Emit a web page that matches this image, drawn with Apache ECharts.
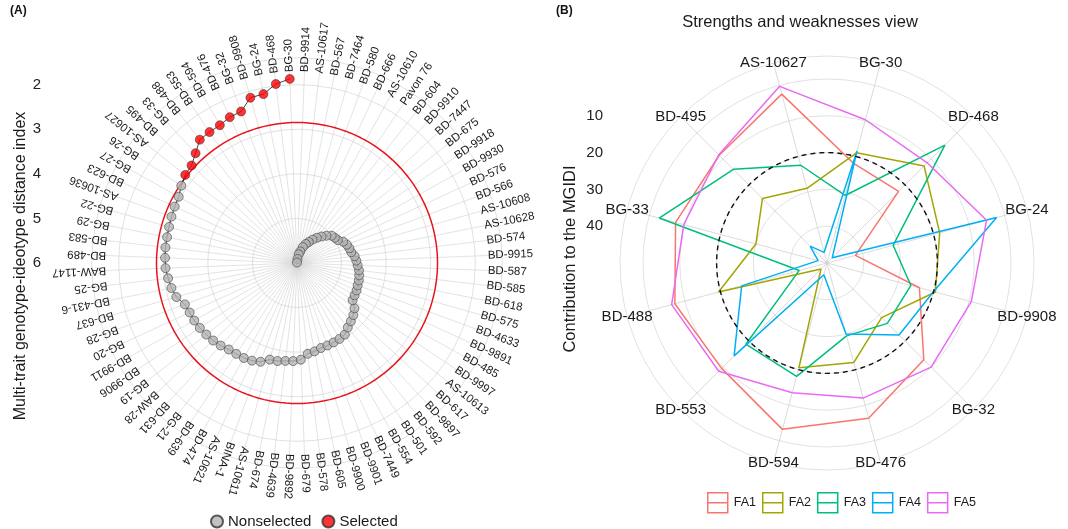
<!DOCTYPE html>
<html>
<head>
<meta charset="utf-8">
<script src="https://cdn.jsdelivr.net/npm/echarts@6/dist/echarts.min.js"></script>
<style>
html, body { margin: 0; padding: 0; background: #fff; }
#plot { width: 1068px; height: 529px; }
</style>
</head>
<body>
<div id="plot"></div>
<script>
// (A) genotypes ranked by MGIDI
var genotypes = ['BG-30', 'BD-468', 'BG-24', 'BD-9908', 'BG-32', 'BD-476', 'BD-594', 'BD-553', 'BD-488', 'BG-33',
  'BD-495', 'AS-10627', 'BG-26', 'BG-27', 'BD-623', 'AS-10636', 'BG-22', 'BG-29', 'BD-583', 'BD-489',
  'BAW-1147', 'BG-25', 'BD-431-6', 'BD-637', 'BG-28', 'BG-20', 'BD-9911', 'BD-9906', 'BG-19', 'BAW-28',
  'BD-631', 'BG-21', 'BD-639', 'BD-474', 'AS-10621', 'BINA-1', 'AS-10611', 'BD-674', 'BD-4639', 'BD-9892',
  'BD-679', 'BD-578', 'BD-605', 'BD-9900', 'BD-9901', 'BD-7449', 'BD-554', 'BD-501', 'BD-592', 'BD-9897',
  'BD-617', 'AS-10613', 'BD-9997', 'BD-485', 'BD-9891', 'BD-4633', 'BD-575', 'BD-618', 'BD-585', 'BD-587',
  'BD-9915', 'BD-574', 'AS-10628', 'AS-10608', 'BD-566', 'BD-576', 'BD-9930', 'BD-9918', 'BD-675', 'BD-7447',
  'BD-9910', 'BD-604', 'Pavon 76', 'AS-10610', 'BD-666', 'BD-580', 'BD-7464', 'BD-567', 'AS-10617', 'BD-9914'];
var mgidi = [1.87, 1.96, 2.14, 2.15, 2.38, 2.40, 2.46, 2.47, 2.48, 2.65,
  2.78, 2.81, 2.88, 2.96, 2.98, 3.00, 3.02, 3.03, 3.03, 3.04,
  3.05, 3.09, 3.13, 3.19, 3.32, 3.35, 3.36, 3.38, 3.41, 3.44,
  3.48, 3.53, 3.55, 3.56, 3.59, 3.64, 3.75, 3.76, 3.79, 3.80,
  3.83, 3.95, 3.98, 4.02, 4.03, 4.04, 4.05, 4.07, 4.16, 4.22,
  4.28, 4.36, 4.50, 4.52, 4.53, 4.55, 4.56, 4.58, 4.60, 4.64,
  4.67, 4.70, 4.76, 4.78, 4.81, 4.86, 4.95, 4.98, 5.01, 5.10,
  5.19, 5.28, 5.37, 5.46, 5.53, 5.62, 5.73, 5.80, 5.91, 5.99];
var nSelected = 12;
var cutoff = 2.85;
var mgidiTicks = [2, 3, 4, 5, 6];

// (B) strengths and weaknesses of the selected genotypes
var radarGenotypes = ['BG-30', 'BD-468', 'BG-24', 'BD-9908', 'BG-32', 'BD-476', 'BD-594', 'BD-553', 'BD-488', 'BG-33', 'BD-495', 'AS-10627'];
var factors = ['FA1', 'FA2', 'FA3', 'FA4', 'FA5'];
var fa1 = [22, 22.5, 42, 24, 12.8, 6.3, 3.2, 9.5, 7.2, 7.4, 8.6, 2.5];
var fa2 = [19, 12.7, 18.3, 19.5, 29, 22, 20.5, 47.7, 19.5, 30, 25.2, 29];
var fa3 = [31, 4.7, 31.4, 26.4, 26.8, 29.5, 18.1, 18.8, 42.2, 2.8, 14, 22.5];
var fa4 = [18.5, 48, 2.3, 20, 22.3, 30, 46.7, 14.3, 26, 47.5, 43.5, 47];
var fa5 = [9.7, 11.5, 5.1, 9.4, 10, 12, 13.5, 8.4, 6.3, 9.7, 8.4, 0.3];
var ideal = 20;
var faColors = ['#F8766D', '#A3A500', '#00BF7D', '#00B0F6', '#E76BF3'];

var FONT = 'Liberation Sans, Arial, sans-serif';
var myChart = echarts.init(document.getElementById('plot'));

// 标签：custom series 画在极坐标上
function polarText(names, rotate, size) {
  return function (params, api) {
    var p = api.coord([api.value(0), api.value(1)]);
    var cs = params.coordSys;
    var ang = Math.atan2(cs.cy - p[1], p[0] - cs.cx);
    return {
      type: 'text', x: p[0], y: p[1], rotation: rotate ? ang : 0,
      style: {
        text: names[params.dataIndex], fill: '#1a1a1a', fontSize: size, fontFamily: FONT,
        align: rotate ? 'left' : 'center', verticalAlign: 'middle'
      }
    };
  };
}

var ring = [];
for (var a = 0; a <= 80; a += 0.5) ring.push([cutoff, a]);
var dash = [];
for (var k = 0; k <= 120; k++) dash.push([ideal, k / 10]);

var gridLine = { lineStyle: { color: '#d9d9d9', width: 0.8 } };
var hidden = { show: false };

var faSeries = [fa1, fa2, fa3, fa4, fa5].map(function (vals, j) {
  return {
    name: factors[j], type: 'line', coordinateSystem: 'polar', polarIndex: 2,
    data: vals.map(function (v, i) { return [v, i]; }).concat([[vals[0], 12]]),
    symbol: 'none', lineStyle: { color: faColors[j], width: 1.5 }, itemStyle: { color: faColors[j] }, z: 3
  };
});

var option = {
  animation: false,
  textStyle: { fontFamily: FONT },
  polar: [
    { center: [297, 263], radius: 178.3 },
    { center: [297, 263], radius: 205.2 },
    { center: [827, 263], radius: 184 },
    { center: [827, 263], radius: 207 }
  ],
  angleAxis: [
    { polarIndex: 0, type: 'value', min: 0, max: 80, show: false },
    { polarIndex: 1, type: 'value', min: 0, max: 80, interval: 1, startAngle: 92.25, clockwise: false,
      axisLine: { lineStyle: { color: '#d9d9d9', width: 0.8 } }, axisTick: hidden, axisLabel: hidden,
      splitLine: { lineStyle: { color: '#d0d0d0', width: 0.6 } } },
    { polarIndex: 2, type: 'value', min: 0, max: 12, interval: 1, startAngle: 75, clockwise: true, show: false },
    { polarIndex: 3, type: 'value', min: 0, max: 12, interval: 1, startAngle: 75, clockwise: true,
      axisLine: { lineStyle: { color: '#d9d9d9', width: 0.8 } }, axisTick: hidden, axisLabel: hidden,
      splitLine: { lineStyle: { color: '#d0d0d0', width: 0.8 } } }
  ],
  radiusAxis: [
    { polarIndex: 0, type: 'value', min: 2, max: 6, interval: 1, inverse: true,
      axisLine: hidden, axisTick: hidden, axisLabel: hidden, splitLine: gridLine },
    { polarIndex: 1, type: 'value', min: 1.4, max: 6, inverse: true,
      axisLine: hidden, axisTick: hidden, axisLabel: hidden, splitLine: hidden },
    { polarIndex: 2, type: 'value', min: 0, max: 50, interval: 10, inverse: true,
      axisLine: hidden, axisTick: hidden, axisLabel: hidden,
      splitLine: { showMinLine: false, showMaxLine: false, lineStyle: { color: '#d9d9d9', width: 0.8 } } },
    { polarIndex: 3, type: 'value', min: 0, max: 1,
      axisLine: hidden, axisTick: hidden, axisLabel: hidden, splitLine: hidden }
  ],
  grid: [
    { left: 47, top: 84.7, width: 1, height: 178.3 },
    { left: 611, top: 79, width: 1, height: 184 }
  ],
  xAxis: [
    { gridIndex: 0, type: 'value', show: false },
    { gridIndex: 1, type: 'value', show: false }
  ],
  yAxis: [
    { gridIndex: 0, type: 'value', min: mgidiTicks[0], max: mgidiTicks[mgidiTicks.length - 1], interval: 1, inverse: true,
      axisLine: hidden, axisTick: hidden, splitLine: hidden,
      axisLabel: { fontSize: 15, color: '#222', margin: 6 } },
    { gridIndex: 1, type: 'value', min: 0, max: 50, interval: 10, inverse: true,
      axisLine: hidden, axisTick: hidden, splitLine: hidden,
      axisLabel: { fontSize: 15, color: '#222', margin: 8, showMinLabel: false, showMaxLabel: false } }
  ],
  legend: [
    { data: ['Nonselected', 'Selected'], left: 205, top: 509, icon: 'circle', itemWidth: 12, itemHeight: 12,
      itemGap: 10, textStyle: { fontSize: 15, color: '#1a1a1a', fontFamily: FONT } },
    { data: factors.map(function (f, j) {
        return { name: f, icon: 'path://M0,0H20V20H0ZM0,10H20',
          itemStyle: { color: '#fff', borderColor: faColors[j], borderWidth: 1.5 } };
      }),
      left: 702, top: 487, itemWidth: 22, itemHeight: 20, itemGap: 6,
      textStyle: { fontSize: 12.5, color: '#1a1a1a', fontFamily: FONT } }
  ],
  graphic: [
    { type: 'text', left: 10, top: 5, style: { text: '(A)', font: 'bold 12px ' + FONT, fill: '#111' } },
    { type: 'text', left: 556, top: 5, style: { text: '(B)', font: 'bold 12px ' + FONT, fill: '#111' } },
    { type: 'text', x: 800, y: 22, style: { text: 'Strengths and weaknesses view', fontSize: 16.5, fontFamily: FONT,
        fill: '#1a1a1a', align: 'center', verticalAlign: 'middle' } },
    { type: 'text', x: 21, y: 266, rotation: Math.PI / 2, style: { text: 'Multi-trait genotype-ideotype distance index',
        fontSize: 16, fontFamily: FONT, fill: '#1a1a1a', align: 'center', verticalAlign: 'middle' } },
    { type: 'text', x: 570, y: 259, rotation: Math.PI / 2, style: { text: 'Contribution to the MGIDI',
        fontSize: 16.5, fontFamily: FONT, fill: '#1a1a1a', align: 'center', verticalAlign: 'middle' } }
  ],
  series: [
    { type: 'line', coordinateSystem: 'polar', polarIndex: 1, data: ring, symbol: 'none', silent: true,
      lineStyle: { color: '#E8141B', width: 1.5 }, z: 2 },
    { type: 'line', coordinateSystem: 'polar', polarIndex: 1,
      data: mgidi.map(function (v, i) { return [v, i]; }), symbol: 'none', silent: true,
      lineStyle: { color: '#111', width: 0.8 }, z: 3 },
    { name: 'Nonselected', type: 'scatter', coordinateSystem: 'polar', polarIndex: 1,
      data: mgidi.map(function (v, i) { return [v, i]; }).slice(nSelected), symbolSize: 9,
      itemStyle: { color: '#B3B3B3', borderColor: '#333', borderWidth: 0.7 }, z: 4 },
    { name: 'Selected', type: 'scatter', coordinateSystem: 'polar', polarIndex: 1,
      data: mgidi.map(function (v, i) { return [v, i]; }).slice(0, nSelected), symbolSize: 9,
      itemStyle: { color: '#FF0000', borderColor: '#333', borderWidth: 0.7 }, z: 4 },
    { type: 'custom', coordinateSystem: 'polar', polarIndex: 1, silent: true,
      encode: { radius: 0, angle: 1 },
      data: genotypes.map(function (g, i) { return [1.72, i]; }),
      renderItem: polarText(genotypes, true, 11.5), z: 5 },
    { type: 'line', coordinateSystem: 'polar', polarIndex: 2, data: dash, symbol: 'none', silent: true,
      lineStyle: { color: '#111', width: 1.4, type: [5, 4] }, z: 4 },
    { type: 'custom', coordinateSystem: 'polar', polarIndex: 3, silent: true,
      encode: { radius: 0, angle: 1 },
      data: radarGenotypes.map(function (g, i) { return [1, i]; }),
      renderItem: polarText(radarGenotypes, false, 15), z: 5 }
  ].concat(faSeries)
};

myChart.setOption(option);
</script>
</body>
</html>
